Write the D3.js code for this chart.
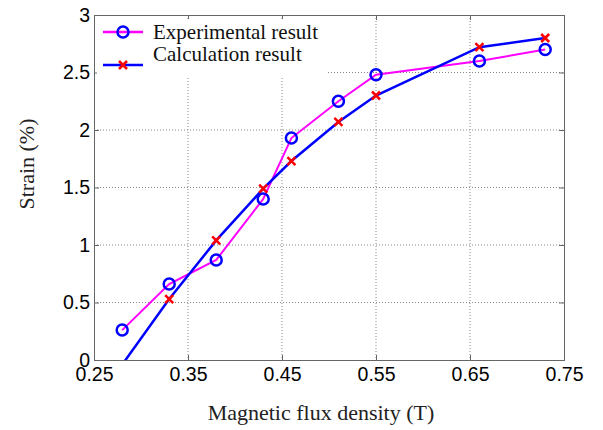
<!DOCTYPE html>
<html>
<head>
<style>
body { margin: 0; background: #fff; }
.grid line { stroke: #888; stroke-dasharray: 1,2; }
.tick text { font-family: "Liberation Sans", Arial, sans-serif; font-size: 19.5px; fill: #000; }
.title { font-family: "Liberation Serif", "Times New Roman", serif; font-size: 22px; fill: #222; }
.leg { font-family: "Liberation Serif", "Times New Roman", serif; font-size: 21px; fill: #111; }
</style>
<script src="https://d3js.org/d3.v7.min.js"></script>
</head>
<body>
<svg width="603" height="430"></svg>
<script>
// flux density (T)
var fluxExp = [0.28, 0.33, 0.38, 0.43, 0.46, 0.51, 0.55, 0.66, 0.73];
var strainExp = [0.26, 0.66, 0.87, 1.40, 1.93, 2.25, 2.48, 2.60, 2.70];
var fluxCalc = [0.28, 0.33, 0.38, 0.43, 0.46, 0.51, 0.55, 0.66, 0.73];
var strainCalc = [-0.04, 0.53, 1.04, 1.49, 1.73, 2.07, 2.30, 2.72, 2.80];
var xTicks = [0.25, 0.35, 0.45, 0.55, 0.65, 0.75];
var yTicks = [0, 0.5, 1, 1.5, 2, 2.5, 3];
var legendNames = ["Experimental result", "Calculation result"];

var pLeft = 94, pRight = 564, pTop = 15, pBottom = 360;
var svg = d3.select("svg");

var x = d3.scaleLinear().domain([0.25, 0.75]).range([pLeft, pRight]);
var y = d3.scaleLinear().domain([0, 3]).range([pBottom, pTop]);

// grid
var grid = svg.append("g").attr("class", "grid");
grid.selectAll(".vx").data(xTicks.slice(1, -1)).enter().append("line")
  .attr("x1", d => x(d)).attr("x2", d => x(d)).attr("y1", pTop).attr("y2", pBottom);
grid.selectAll(".hy").data(yTicks.slice(1, -1)).enter().append("line")
  .attr("x1", pLeft).attr("x2", pRight).attr("y1", d => y(d)).attr("y2", d => y(d));

// axes (ticks inside, box)
svg.append("g").attr("transform", "translate(0," + pBottom + ")")
  .call(d3.axisBottom(x).tickValues(xTicks).tickSize(-5).tickPadding(7).tickFormat(d3.format(".2f")));
svg.append("g").attr("transform", "translate(0," + pTop + ")")
  .call(d3.axisTop(x).tickValues(xTicks).tickSize(-5).tickFormat(""));
svg.append("g").attr("transform", "translate(" + pLeft + ",0)")
  .call(d3.axisLeft(y).tickValues(yTicks).tickSize(-5).tickPadding(4).tickFormat(d3.format("")));
svg.append("g").attr("transform", "translate(" + pRight + ",0)")
  .call(d3.axisRight(y).tickValues(yTicks).tickSize(-5).tickFormat(""));
svg.selectAll(".domain").attr("stroke", "#666");
svg.selectAll(".tick line").attr("stroke", "#666");

// clip
svg.append("clipPath").attr("id", "plotclip").append("rect")
  .attr("x", pLeft).attr("y", pTop).attr("width", pRight - pLeft).attr("height", pBottom - pTop);

var plot = svg.append("g").attr("clip-path", "url(#plotclip)");
var line = d3.line().x(d => x(d[0])).y(d => y(d[1]));
var expData = d3.zip(fluxExp, strainExp);
var calcData = d3.zip(fluxCalc, strainCalc);

plot.append("path").datum(expData).attr("d", line)
  .attr("fill", "none").attr("stroke", "#ff00ff").attr("stroke-width", 2);
plot.append("path").datum(calcData).attr("d", line)
  .attr("fill", "none").attr("stroke", "#0000ff").attr("stroke-width", 2.5);

function cross(g, cx, cy, s) {
  g.append("path")
    .attr("d", "M" + (cx - s) + "," + (cy - s) + "L" + (cx + s) + "," + (cy + s) +
               "M" + (cx - s) + "," + (cy + s) + "L" + (cx + s) + "," + (cy - s))
    .attr("stroke", "#ff0000").attr("stroke-width", 2.5).attr("fill", "none");
}

plot.selectAll(".m").data(expData).enter().append("circle")
  .attr("cx", d => x(d[0])).attr("cy", d => y(d[1])).attr("r", 5.5)
  .attr("fill", "none").attr("stroke", "#0000ff").attr("stroke-width", 2.5);
calcData.forEach(function(d) { if (d[1] >= 0) cross(plot, x(d[0]), y(d[1]), 4); });

// legend
var lg = svg.append("g");
lg.append("rect").attr("x", 97).attr("y", 19).attr("width", 230).attr("height", 57).attr("fill", "#fff");
lg.append("line").attr("x1", 103).attr("x2", 143).attr("y1", 32).attr("y2", 32)
  .attr("stroke", "#ff00ff").attr("stroke-width", 2.5);
lg.append("circle").attr("cx", 123).attr("cy", 32).attr("r", 5.5)
  .attr("fill", "none").attr("stroke", "#0000ff").attr("stroke-width", 2.5);
lg.append("line").attr("x1", 103).attr("x2", 143).attr("y1", 65).attr("y2", 65)
  .attr("stroke", "#0000ff").attr("stroke-width", 2.5);
cross(lg, 123, 65, 4);
lg.append("text").attr("class", "leg").attr("x", 153).attr("y", 39).text(legendNames[0]);
lg.append("text").attr("class", "leg").attr("x", 153).attr("y", 61).text(legendNames[1]);

// axis titles
svg.append("text").attr("class", "title").attr("text-anchor", "middle")
  .attr("x", 321).attr("y", 420).text("Magnetic flux density (T)");
svg.append("text").attr("class", "title").attr("text-anchor", "middle")
  .attr("transform", "translate(34,164) rotate(-90)").text("Strain (%)");
</script>
</body>
</html>
